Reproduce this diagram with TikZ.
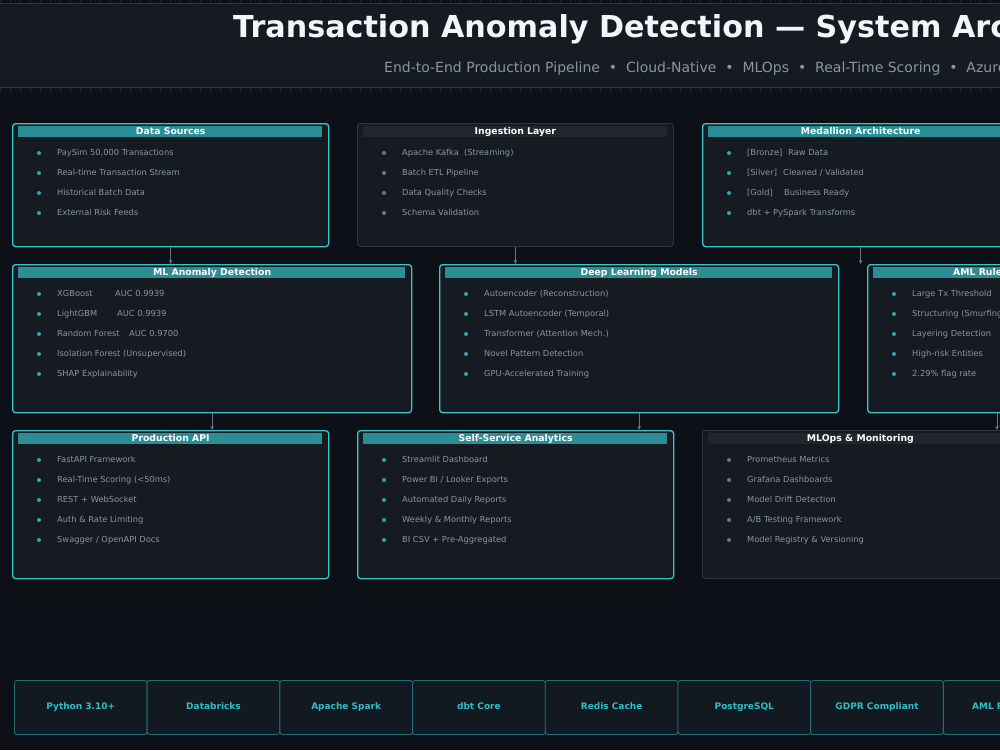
\documentclass[tikz,border=0pt]{standalone}
\usepackage{fontspec}
\setmainfont{DejaVu Sans}
\usetikzlibrary{calc,arrows.meta}
\definecolor{bgc}{HTML}{0D1117}
\definecolor{headc}{HTML}{161B22}
\definecolor{headline}{HTML}{30363D}
\definecolor{tickc}{HTML}{1F252D}
\definecolor{panelF}{HTML}{161B22}
\definecolor{tealB}{HTML}{36C6CC}
\definecolor{tealBar}{HTML}{2B8E95}
\definecolor{tealDot}{HTML}{2AA8B0}
\definecolor{grayB}{HTML}{30363D}
\definecolor{grayBar}{HTML}{21262D}
\definecolor{grayDot}{HTML}{6E7681}
\definecolor{itemc}{HTML}{8B949E}
\definecolor{titlec}{HTML}{F0F6FC}
\definecolor{subc}{HTML}{8B949E}
\definecolor{connc}{HTML}{6E7681}
\definecolor{techB}{HTML}{1E6F78}
\definecolor{techF}{HTML}{131920}
\definecolor{techT}{HTML}{2FBFC7}
\newcommand{\mkpanel}[7]{%
  \node[panel#6, minimum width=#4pt, minimum height=#5pt] (#1) at (#2,#3) {};
  \fill[bar#6] ($(#1.north west)+(6,3)$) rectangle ($(#1.north east)+(-7,14)$);
  \node[ptitle] at ($(#1.north)+(0,8.5)$) {#7};
}
\newcommand{\mkitems}[3]{%
  \foreach \t [count=\i] in {#3} {
    \fill[dot#2] ($(#1.north west)+(27,10+20*\i)$) circle (2pt);
    \node[item] at ($(#1.north west)+(45,10+20*\i)$) {\t};
  }
}
\begin{document}
\begin{tikzpicture}[x=1pt,y=-1pt,
  panelT/.style={draw=tealB, line width=1.3pt, fill=panelF, rounded corners=3pt, anchor=north west, inner sep=0pt},
  panelG/.style={draw=grayB, line width=0.8pt, fill=panelF, rounded corners=3pt, anchor=north west, inner sep=0pt},
  barT/.style={fill=tealBar},
  barG/.style={fill=grayBar},
  dotT/.style={fill=tealDot},
  dotG/.style={fill=grayDot},
  ptitle/.style={text=white, font=\fontsize{9.3}{11}\selectfont\bfseries, inner sep=0pt, text height=7pt, text depth=2pt},
  item/.style={text=itemc, font=\fontsize{8.3}{10}\selectfont, anchor=west, inner sep=0pt, text height=6.2pt, text depth=1.9pt},
  conn/.style={draw=connc, line width=0.9pt, -{Stealth[length=4pt,width=3.5pt]}},
  tick/.style={draw=tickc, line width=0.6pt},
  tech/.style={draw=techB, line width=0.9pt, fill=techF, rounded corners=2.5pt, minimum width=132.7pt, minimum height=54pt, anchor=north west, inner sep=0pt, text=techT, font=\fontsize{9}{11}\selectfont\bfseries, text height=7pt, text depth=2pt}
]
\useasboundingbox (0,0) rectangle (1000,750);
\clip (0,0) rectangle (1000,750);
\fill[bgc] (0,0) rectangle (1000,750);
% header
\fill[headc] (0,3.5) rectangle (1000,87);
\draw[headline, line width=0.8pt] (0,3.5) -- (1000,3.5);
\draw[headline, line width=0.8pt] (0,87) -- (1000,87);
\foreach \x in {0,10,...,1000} {
  \draw[tick] (\x,0) -- (\x,3);
  \draw[tick] (\x,88) -- (\x,93);
}
\node[anchor=west, inner sep=0pt, text=titlec, font=\fontsize{30.2}{36}\selectfont\bfseries, text height=22pt, text depth=6pt] (title) at (233,29) {Transaction Anomaly Detection — System Architecture};
\node[anchor=west, inner sep=0pt, text=subc, font=\fontsize{14}{17}\selectfont, text height=10.5pt, text depth=3pt] (subtitle) at (384,69) {End-to-End Production Pipeline \ • \ Cloud-Native \ • \ MLOps \ • \ Real-Time Scoring \ • \ Azure};

% row 1
\mkpanel{ds}{12}{123}{316}{123}{T}{Data Sources}
\mkitems{ds}{T}{{PaySim 50,000 Transactions},{Real-time Transaction Stream},{Historical Batch Data},{External Risk Feeds}}
\mkpanel{ing}{357}{123}{316}{123}{G}{Ingestion Layer}
\mkitems{ing}{G}{{Apache Kafka \ (Streaming)},{Batch ETL Pipeline},{Data Quality Checks},{Schema Validation}}
\mkpanel{med}{702}{123}{316}{123}{T}{Medallion Architecture}
\mkitems{med}{T}{{\makebox[41pt][l]{[Bronze]}Raw Data},{\makebox[36pt][l]{[Silver]}Cleaned / Validated},{\makebox[37pt][l]{[Gold]}Business Ready},{dbt + PySpark Transforms}}

% row 2
\mkpanel{ml}{12}{264}{399}{148}{T}{ML Anomaly Detection}
\mkitems{ml}{T}{{\makebox[58pt][l]{XGBoost}AUC 0.9939},{\makebox[60pt][l]{LightGBM}AUC 0.9939},{\makebox[72pt][l]{Random Forest}AUC 0.9700},{Isolation Forest (Unsupervised)},{SHAP Explainability}}
\mkpanel{dl}{439}{264}{399}{148}{T}{Deep Learning Models}
\mkitems{dl}{T}{{Autoencoder (Reconstruction)},{LSTM Autoencoder (Temporal)},{Transformer (Attention Mech.)},{Novel Pattern Detection},{GPU-Accelerated Training}}
\mkpanel{aml}{867}{264}{399}{148}{T}{}
\node[ptitle, anchor=west] (amltitle) at (953,272.5) {AML Rules \& Compliance Engine};
\mkitems{aml}{T}{{Large Tx Threshold},{Structuring (Smurfing)},{Layering Detection},{High-risk Entities},{2.29\% flag rate}}

% row 3
\mkpanel{api}{12}{430}{316}{148}{T}{Production API}
\mkitems{api}{T}{{FastAPI Framework},{Real-Time Scoring (<50ms)},{REST + WebSocket},{Auth \& Rate Limiting},{Swagger / OpenAPI Docs}}
\mkpanel{ssa}{357}{430}{316}{148}{T}{Self-Service Analytics}
\mkitems{ssa}{T}{{Streamlit Dashboard},{Power BI / Looker Exports},{Automated Daily Reports},{Weekly \& Monthly Reports},{BI CSV + Pre-Aggregated}}
\mkpanel{mlops}{702}{430}{316}{148}{G}{MLOps \& Monitoring}
\mkitems{mlops}{G}{{Prometheus Metrics},{Grafana Dashboards},{Model Drift Detection},{A/B Testing Framework},{Model Registry \& Versioning}}

% connectors
\draw[conn] (ds.south) -- (ds.south |- ml.north);
\draw[conn] (ing.south) -- (ing.south |- dl.north);
\coordinate (medend) at (med.south |- aml.north);
\draw[conn] (med.south) -- (medend);
\draw[conn] (ml.south) -- (ml.south |- api.north);
\draw[conn] (dl.south) -- (dl.south |- ssa.north);
\coordinate (amlout) at ([xshift=130pt]aml.south west);
\draw[conn] (amlout) -- (amlout |- mlops.north);

% tech strip
\node[tech] (t1) at (14,680) {Python 3.10+};
\node[tech] (t2) at (146.7,680) {Databricks};
\node[tech] (t3) at (279.4,680) {Apache Spark};
\node[tech] (t4) at (412.1,680) {dbt Core};
\node[tech] (t5) at (544.8,680) {Redis Cache};
\node[tech] (t6) at (677.5,680) {PostgreSQL};
\node[tech] (t7) at (810.2,680) {GDPR Compliant};
\node[tech] (t8) at (942.9,680) {AML Reporting};
\end{tikzpicture}
\end{document}
